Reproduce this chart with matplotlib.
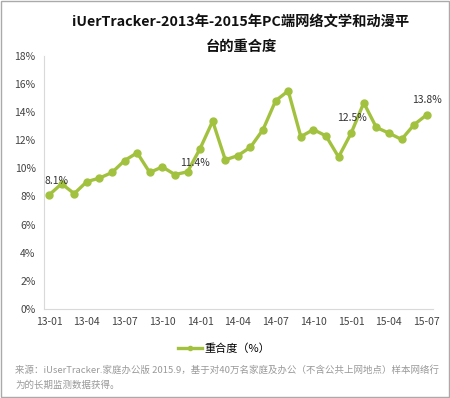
import matplotlib
matplotlib.use("Agg")
import matplotlib.pyplot as plt
from matplotlib.patches import Rectangle

plt.rcParams['font.family'] = ['Noto Sans CJK SC', 'DejaVu Sans']

months = ["13-01","13-02","13-03","13-04","13-05","13-06","13-07","13-08","13-09","13-10","13-11","13-12",
          "14-01","14-02","14-03","14-04","14-05","14-06","14-07","14-08","14-09","14-10","14-11","14-12",
          "15-01","15-02","15-03","15-04","15-05","15-06","15-07"]
values = [8.1, 8.9, 8.2, 9.05, 9.3, 9.7, 10.55, 11.1, 9.7, 10.1, 9.55, 9.75,
          11.4, 13.35, 10.6, 10.9, 11.5, 12.75, 14.8, 15.5, 12.25, 12.75, 12.3, 10.8,
          12.5, 14.65, 12.9, 12.5, 12.05, 13.1, 13.8]
labeled = {0: "8.1%", 12: "11.4%", 24: "12.5%", 30: "13.8%"}
label_offsets = {0: (7, 14), 12: (-5, -14), 24: (1, 15), 30: (0, 15)}
yticks = [0, 2, 4, 6, 8, 10, 12, 14, 16, 18]
tick_idx = list(range(0, 31, 3))

color = '#a2c23f'

fig = plt.figure(figsize=(4.5, 3.98), dpi=100)
ax = fig.add_axes([44/450, 1-309/398, (433-44)/450, (309-55.7)/398])
x = list(range(len(values)))
ax.plot(x, values, color=color, lw=2.4, marker='o', ms=5, label='重合度（%）', zorder=3)

for i, t in labeled.items():
    dx, dy = label_offsets[i]
    ax.annotate(t, (x[i], values[i]), xytext=(dx, dy), textcoords='offset pixels',
                ha='center', va='center', fontsize=7.5, color='#333333')

ax.set_ylim(0, 18)
ax.set_xlim(-0.4, 30.5)
ax.set_yticks(yticks)
ax.set_yticklabels([f"{v}%" for v in yticks], fontsize=7.5, color='#444444')
ax.set_xticks(tick_idx)
ax.set_xticklabels([months[i] for i in tick_idx], fontsize=7.5, color='#444444')
ax.tick_params(length=0, pad=6)
for s in ['top', 'right']:
    ax.spines[s].set_visible(False)
for s in ['left', 'bottom']:
    ax.spines[s].set_color('#d9d9d9')

leg = fig.legend(loc='center', bbox_to_anchor=(224/450, 1-349/398), frameon=False,
                 fontsize=8, handlelength=2.2, handletextpad=0.2, markerscale=0.6)

fig.text(241/450, 1-22/398, "iUerTracker-2013年-2015年PC端网络文学和动漫平", ha='center', va='center',
         fontsize=10.3, fontweight='bold', color='#111111')
fig.text(241/450, 1-47/398, "台的重合度", ha='center', va='center',
         fontsize=10.3, fontweight='bold', color='#111111')

fig.text(15/450, 1-370/398, "来源：iUserTracker.家庭办公版 2015.9，基于对40万名家庭及办公（不含公共上网地点）样本网络行",
         ha='left', va='center', fontsize=6.8, color='#999999')
fig.text(15/450, 1-385/398, "为的长期监测数据获得。", ha='left', va='center', fontsize=6.8, color='#999999')

fig.patches.append(Rectangle((0.002, 0.002), 0.996, 0.996, transform=fig.transFigure,
                             fill=False, edgecolor='#aaaaaa', lw=1))

fig.savefig('out.png', dpi=100)
